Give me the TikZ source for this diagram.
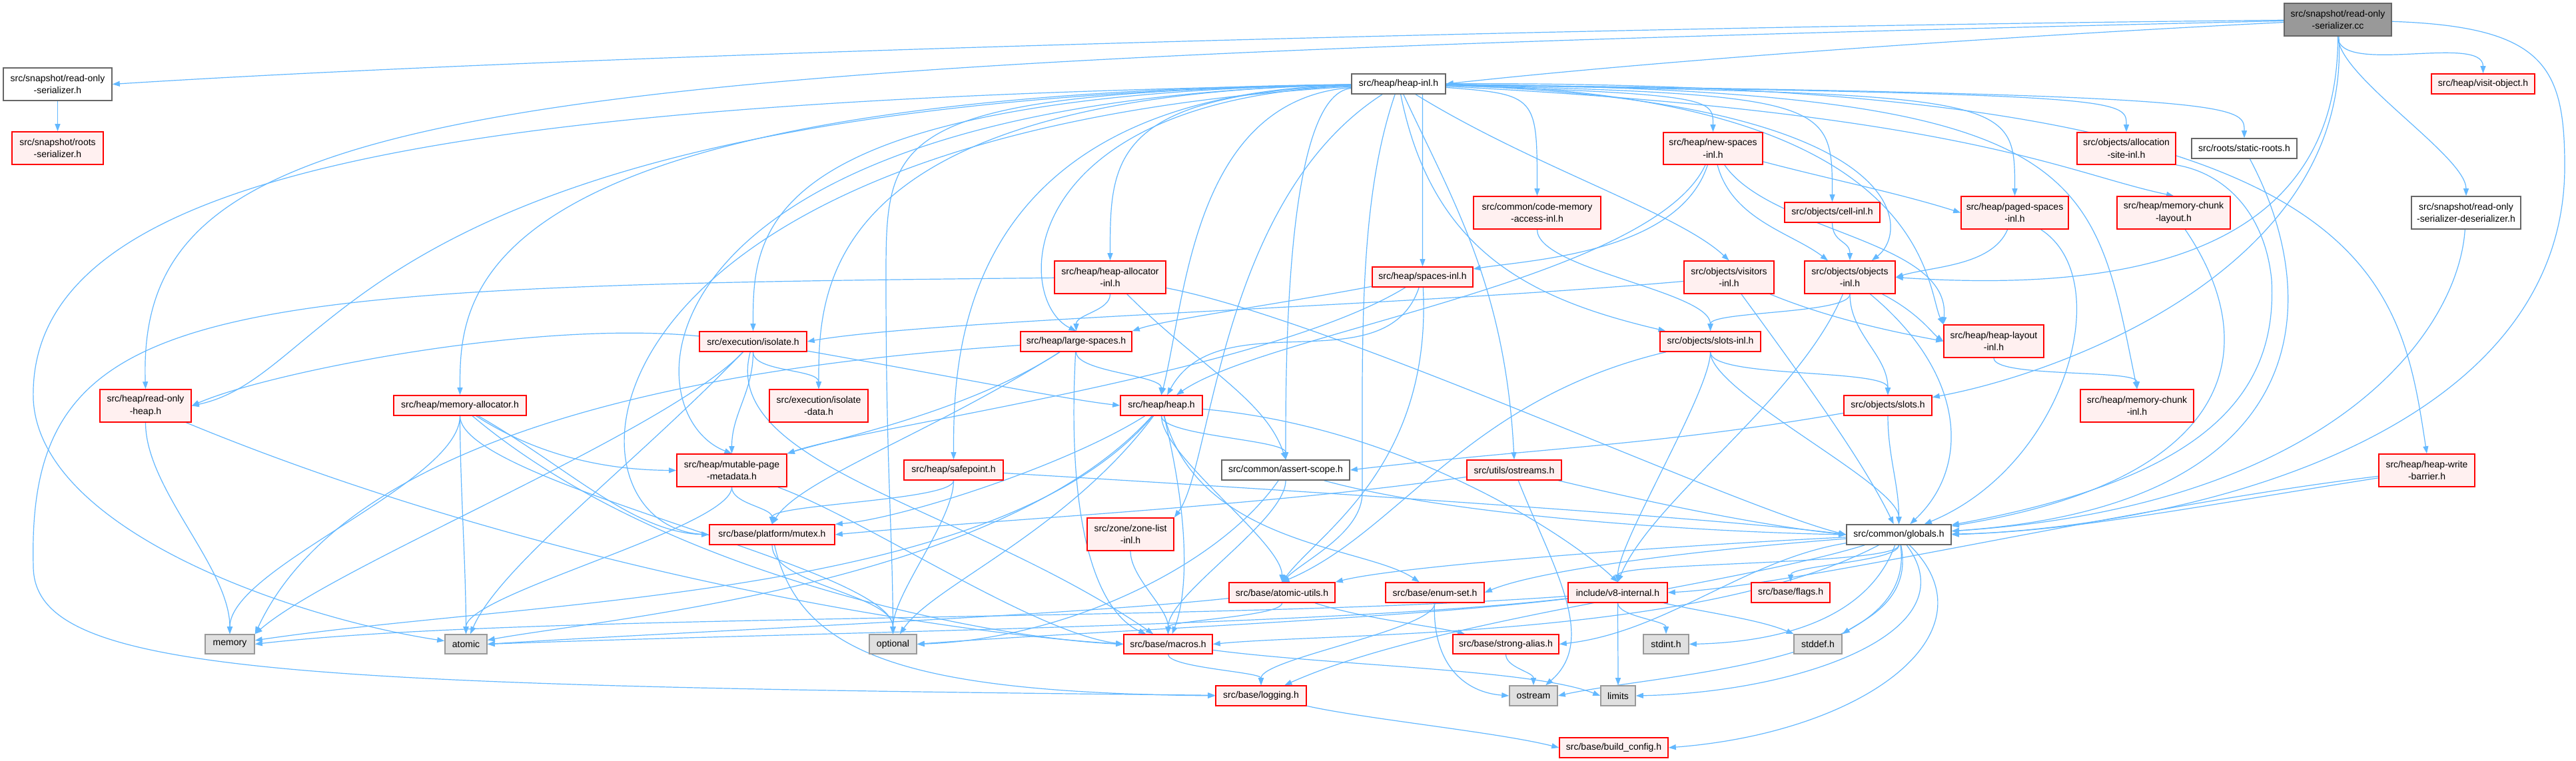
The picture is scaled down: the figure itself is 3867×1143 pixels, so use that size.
\documentclass[tikz,border=0pt]{standalone}
\usepackage{fontspec}
\setmainfont{Liberation Sans}
\usetikzlibrary{arrows.meta,calc}
\pgfdeclarelayer{bg}
\pgfsetlayers{bg,main}
\definecolor{eblue}{HTML}{63B8FF}
\definecolor{nred}{HTML}{FF0000}
\definecolor{nredfill}{HTML}{FFF0F0}
\definecolor{ngray}{HTML}{666666}
\definecolor{nlgray}{HTML}{999999}
\definecolor{ngfill}{HTML}{E0E0E0}
\definecolor{nroot}{HTML}{999999}
\tikzset{
  nbase/.style={draw, rectangle, inner sep=0pt, align=center, line width=0.4pt,
    font=\fontsize{3.5}{4.675}\selectfont, text=black},
  rn/.style={nbase, draw=nred, fill=nredfill},
  wn/.style={nbase, draw=ngray, fill=white},
  gn/.style={nbase, draw=nlgray, fill=ngfill},
  rootn/.style={nbase, draw=ngray, fill=nroot},
  dep/.style={draw=eblue, line width=0.3pt, -{Triangle[length=2.75pt,width=2pt]}},
}
\newcommand\nb[7]{\node[#1,minimum width=#5*0.25pt,minimum height=#6*0.25pt] (#2) at (#3,#4) {#7};}
\newcommand\edd[3][60]{\draw[dep] (#2) .. controls ($(#2.south)+(0,-#1)$) and ($(#3.north)+(0,#1)$) .. (#3);}
\newcommand\hfan[3]{\draw[dep] (#1) .. controls (#2.north |- #1.south) and ($(#2.north)+(0,#3)$) .. (#2);}
\begin{document}
\begin{tikzpicture}[x=0.25pt,y=0.25pt]
\useasboundingbox (0,0) rectangle (3867,-1143);
% ---------------- nodes
\nb{rootn}{roc}{3509.5}{-29.5}{161}{49}{src/snapshot/read-only\\-serializer.cc}
\nb{wn}{ROS}{86.5}{-126.5}{163}{49}{src/snapshot/read-only\\-serializer.h}
\nb{rn}{RS}{86.5}{-222.5}{137}{49}{src/snapshot/roots\\-serializer.h}
\nb{wn}{HI}{2099.5}{-126}{141}{30}{src/heap/heap-inl.h}
\nb{rn}{VO}{3727.5}{-126}{155}{30}{src/heap/visit-object.h}
\nb{wn}{RSD}{3702}{-319.5}{164}{49}{src/snapshot/read-only\\-serializer-deserializer.h}
\nb{rn}{NSI}{2571.5}{-223}{149}{48}{src/heap/new-spaces\\-inl.h}
\nb{rn}{ASI}{3192}{-223}{148}{48}{src/objects/allocation\\-site-inl.h}
\nb{wn}{SR}{3369}{-223}{158}{30}{src/roots/static-roots.h}
\nb{rn}{CMA}{2307.5}{-319.5}{191}{49}{src/common/code-memory\\-access-inl.h}
\nb{rn}{CELL}{2750.5}{-319}{143}{30}{src/objects/cell-inl.h}
\nb{rn}{PSI}{3024.5}{-319.5}{161}{49}{src/heap/paged-spaces\\-inl.h}
\nb{rn}{MCL}{3263}{-319.5}{170}{49}{src/heap/memory-chunk\\-layout.h}
\nb{rn}{HAI}{1666.5}{-416.5}{167}{49}{src/heap/heap-allocator\\-inl.h}
\nb{rn}{SPI}{2135.5}{-416}{151}{30}{src/heap/spaces-inl.h}
\nb{rn}{VIS}{2595.5}{-416.5}{135}{49}{src/objects/visitors\\-inl.h}
\nb{rn}{OBJI}{2777}{-416.5}{136}{49}{src/objects/objects\\-inl.h}
\nb{rn}{ISO}{1130.5}{-513}{161}{30}{src/execution/isolate.h}
\nb{rn}{LS}{1615.5}{-513}{167}{30}{src/heap/large-spaces.h}
\nb{rn}{SLI}{2567.5}{-513}{151}{30}{src/objects/slots-inl.h}
\nb{rn}{HLI}{2993}{-512.5}{150}{49}{src/heap/heap-layout\\-inl.h}
\nb{rn}{ROH}{218.5}{-609.5}{137}{49}{src/heap/read-only\\-heap.h}
\nb{rn}{MA}{690.5}{-609}{199}{30}{src/heap/memory-allocator.h}
\nb{rn}{ISD}{1229}{-609.5}{148}{49}{src/execution/isolate\\-data.h}
\nb{rn}{HEAP}{1743.5}{-609}{123}{30}{src/heap/heap.h}
\nb{rn}{SLOTS}{2834}{-609}{132}{30}{src/objects/slots.h}
\nb{rn}{MCI}{3208}{-609.5}{170}{49}{src/heap/memory-chunk\\-inl.h}
\nb{rn}{MPM}{1098.5}{-706.5}{165}{49}{src/heap/mutable-page\\-metadata.h}
\nb{rn}{SAFE}{1431.5}{-706}{149}{30}{src/heap/safepoint.h}
\nb{wn}{AS}{1930}{-706}{192}{30}{src/common/assert-scope.h}
\nb{rn}{OST}{2273}{-706}{142}{30}{src/utils/ostreams.h}
\nb{rn}{HWB}{3643}{-706.5}{144}{49}{src/heap/heap-write\\-barrier.h}
\nb{rn}{MUTEX}{1159}{-803}{188}{30}{src/base/platform/mutex.h}
\nb{rn}{ZLI}{1697}{-802.5}{130}{49}{src/zone/zone-list\\-inl.h}
\nb{wn}{GLOB}{2850.5}{-803}{157}{30}{src/common/globals.h}
\nb{rn}{AU}{1924.5}{-890}{159}{30}{src/base/atomic-utils.h}
\nb{rn}{ENUM}{2154}{-890}{148}{30}{src/base/enum-set.h}
\nb{rn}{V8I}{2428.5}{-890}{149}{30}{include/v8-internal.h}
\nb{rn}{FLAGS}{2688}{-890}{118}{30}{src/base/flags.h}
\nb{gn}{MEM}{345}{-967.5}{74}{29}{memory}
\nb{gn}{ATOM}{699.5}{-967.5}{63}{29}{atomic}
\nb{gn}{OPT}{1340.5}{-967.5}{71}{29}{optional}
\nb{rn}{MACROS}{1753.5}{-967.5}{133}{29}{src/base/macros.h}
\nb{rn}{SA}{2260.5}{-967.5}{159}{29}{src/base/strong-alias.h}
\nb{gn}{STDINT}{2501}{-967.5}{68}{29}{stdint.h}
\nb{gn}{STDDEF}{2729}{-967.5}{72}{29}{stddef.h}
\nb{rn}{LOG}{1893}{-1045}{136}{30}{src/base/logging.h}
\nb{gn}{OSTREAM}{2302}{-1045}{72}{30}{ostream}
\nb{gn}{LIMITS}{2429}{-1045}{52}{30}{limits}
\nb{rn}{BC}{2422.5}{-1123}{163}{30}{src/base/build\_config.h}
% ---------------- edges
\begin{pgfonlayer}{bg}
\fill[white] (0,0) rectangle (3867,-1143);
% root
\draw[dep] (roc) .. controls (2400,-40) and (900,-80) .. (ROS.east);
\draw[dep] (roc) .. controls (700,-95) and (204,-150) .. (ROH.north);
\draw[dep] (roc) .. controls (3000,-55) and (2500,-90) .. (HI.east);
\edd{roc}{VO}
\edd{roc}{RSD}
\draw[dep] (roc) .. controls (3510,-380) and (3200,-440) .. (OBJI.east);
\draw[dep] (roc) .. controls (3530,-400) and (3100,-560) .. (SLOTS);
\draw[dep] (roc) .. controls (3820,-40) and (3850,-100) .. (3850,-250) .. controls (3850,-650) and (3300,-790) .. (GLOB.east);
\edd{ROS}{RS}
% heap-inl.h
\hfan{HI}{MA}{150}
\hfan{HI}{ISO}{150}
\hfan{HI}{ISD}{150}
\hfan{HI}{SAFE}{150}
\hfan{HI}{HAI}{150}
\hfan{HI}{AS}{150}
\hfan{HI}{SPI}{150}
\hfan{HI}{CMA}{150}
\hfan{HI}{NSI}{50}
\hfan{HI}{CELL}{150}
\hfan{HI}{PSI}{150}
\hfan{HI}{ASI}{50}
\hfan{HI}{SR}{50}
\draw[dep] (HI) .. controls (520,-150) and (520,-560) .. (ROH.east);
\draw[dep] (HI) .. controls (700,-150) and (40,-250) .. (50,-600) .. controls (60,-800) and (450,-930) .. (ATOM);
\draw[dep] (HI) .. controls (827,-200) and (827,-790) .. (MUTEX.west);
\draw[dep] (HI) .. controls (940,-150) and (940,-620) .. (MPM.north);
\draw[dep] (HI) .. controls (1330,-140) and (1330,-200) .. (1330,-420) .. controls (1330,-700) and (1340,-800) .. (OPT.north);
\draw[dep] (HI) .. controls (1520,-150) and (1520,-450) .. (LS.north);
\draw[dep] (HI) .. controls (1790,-150) and (1780,-450) .. (HEAP.north);
\draw[dep] (HI) .. controls (1830,-300) and (1820,-700) .. (ZLI.north east);
\draw[dep] (HI) .. controls (2040,-300) and (2045,-500) .. (2045,-740) .. controls (2045,-800) and (1960,-840) .. (AU.north);
\draw[dep] (HI) .. controls (2180,-300) and (2260,-430) .. (OST.north);
\draw[dep] (HI) .. controls (2150,-380) and (2300,-450) .. (SLI);
\draw[dep] (HI) .. controls (2300,-250) and (2520,-320) .. (VIS.north);
\draw[dep] (HI) .. controls (2870,-150) and (2870,-345) .. (OBJI);
\draw[dep] (HI) .. controls (2900,-140) and (2890,-430) .. (HLI.north west);
\draw[dep] (HI) .. controls (3140,-135) and (3140,-250) .. (MCI.north);
\draw[dep] (HI) .. controls (2950,-170) and (3100,-260) .. (MCL.north);
\draw[dep] (HI) .. controls (3560,-120) and (3600,-400) .. (HWB.north);
% new-spaces-inl.h
\draw[dep] (NSI) .. controls (2750,-270) and (2850,-290) .. (PSI.west);
\draw[dep] (NSI) .. controls (2520,-380) and (2300,-390) .. (SPI);
\draw[dep] (NSI) .. controls (2480,-420) and (1900,-500) .. (HEAP);
\draw[dep] (NSI) .. controls (2600,-330) and (2690,-350) .. (OBJI);
\draw[dep] (NSI) .. controls (2660,-350) and (2930,-360) .. (HLI.north west);
% misc upper
\edd{CMA}{SLI}
\edd[30]{CELL}{OBJI}
\draw[dep] (PSI) .. controls (2990,-400) and (2900,-400) .. (OBJI.east);
\draw[dep] (PSI) .. controls (3180,-420) and (3100,-700) .. (GLOB);
\draw[dep] (ASI.south east) .. controls (3340,-260) and (3400,-320) .. (3410,-420) .. controls (3420,-600) and (3300,-720) .. (GLOB);
\draw[dep] (SR) .. controls (3490,-450) and (3480,-760) .. (GLOB);
\draw[dep] (MCL) .. controls (3400,-520) and (3360,-720) .. (GLOB);
\draw[dep] (RSD) .. controls (3690,-500) and (3500,-760) .. (GLOB);
\draw[dep] (HWB) .. controls (3300,-760) and (3100,-800) .. (GLOB);
\draw[dep] (HWB) .. controls (3200,-760) and (2700,-880) .. (V8I.east);
% visitors / objects / slots
\draw[dep] (VIS) .. controls (2100,-460) and (1400,-480) .. (ISO.east);
\draw[dep] (VIS) .. controls (2750,-480) and (2850,-500) .. (HLI.west);
\draw[dep] (VIS) .. controls (2730,-600) and (2800,-700) .. (GLOB);
\edd[30]{OBJI}{SLI}
\edd{OBJI}{SLOTS}
\draw[dep] (OBJI) .. controls (2880,-470) and (2900,-500) .. (HLI.west);
\draw[dep] (OBJI) .. controls (2950,-560) and (2960,-700) .. (GLOB);
\draw[dep] (OBJI) .. controls (2700,-600) and (2480,-750) .. (V8I.north);
\edd[40]{SLI}{SLOTS}
\draw[dep] (SLI) .. controls (2200,-600) and (2100,-800) .. (AU.north);
\edd{SLI}{GLOB}
\edd{SLI}{V8I}
\draw[dep] (SLOTS) .. controls (2480,-670) and (2315,-672) .. (AS.east);
\edd{SLOTS}{GLOB}
\edd[30]{HLI}{MCI}
% heap allocator / large spaces / spaces
\edd[25]{HAI}{LS}
\draw[dep] (HAI) .. controls (1800,-550) and (1900,-600) .. (AS.north);
\draw[dep] (HAI) .. controls (300,-430) and (40,-450) .. (50,-850) .. controls (50,-1010) and (400,-1030) .. (LOG);
\draw[dep] (HAI) .. controls (2000,-480) and (2600,-760) .. (GLOB.west);
\edd[30]{LS}{HEAP}
\draw[dep] (LS) .. controls (1450,-620) and (1250,-660) .. (MPM.north east);
\draw[dep] (LS) .. controls (1400,-650) and (1200,-720) .. (MUTEX.north);
\draw[dep] (LS) .. controls (900,-560) and (500,-700) .. (MEM.north east);
\draw[dep] (LS) .. controls (1600,-800) and (1650,-920) .. (MACROS);
\draw[dep] (SPI) .. controls (1900,-460) and (1750,-480) .. (LS.north east);
\draw[dep] (SPI) .. controls (2080,-580) and (1830,-450) .. (HEAP);
\draw[dep] (SPI) .. controls (1900,-560) and (1300,-640) .. (MPM.north east);
\draw[dep] (SPI) .. controls (2150,-700) and (1980,-800) .. (AU.north);
% isolate
\edd[30]{ISO}{ISD}
\edd{ISO}{MPM}
\draw[dep] (ISO) .. controls (1400,-560) and (1600,-600) .. (HEAP.west);
\draw[dep] (ISO) .. controls (800,-480) and (400,-560) .. (ROH.east);
\draw[dep] (ISO) .. controls (1000,-650) and (500,-850) .. (MEM.north east);
\draw[dep] (ISO) .. controls (950,-700) and (750,-850) .. (ATOM);
\draw[dep] (ISO) .. controls (1080,-700) and (1450,-760) .. (MACROS);
% read-only heap, memory allocator
\edd[100]{ROH}{MEM}
\draw[dep] (ROH) .. controls (800,-850) and (1400,-950) .. (MACROS.west);
\edd[100]{MA}{MEM}
\edd[100]{MA}{ATOM}
\edd[100]{MA}{OPT}
\draw[dep] (MA) .. controls (850,-700) and (950,-800) .. (MUTEX.west);
\draw[dep] (MA) .. controls (800,-680) and (900,-706) .. (MPM.west);
\draw[dep] (MA) .. controls (1000,-870) and (1500,-960) .. (MACROS.west);
% heap.h
\edd[30]{HEAP}{AS}
\edd{HEAP}{AU}
\draw[dep] (HEAP) .. controls (1600,-700) and (1350,-780) .. (MUTEX.north east);
\draw[dep] (HEAP) .. controls (1600,-800) and (1400,-880) .. (OPT);
\draw[dep] (HEAP) .. controls (1500,-900) and (800,-900) .. (MEM);
\draw[dep] (HEAP) .. controls (1500,-880) and (900,-930) .. (ATOM);
\draw[dep] (HEAP) .. controls (2100,-640) and (2350,-800) .. (V8I.north);
\draw[dep] (HEAP) .. controls (1800,-820) and (2050,-820) .. (ENUM);
\draw[dep] (HEAP) .. controls (1790,-800) and (1780,-900) .. (MACROS);
% middle row
\edd[30]{SAFE}{MUTEX}
\edd{SAFE}{OPT}
\draw[dep] (SAFE) .. controls (2000,-740) and (2600,-780) .. (GLOB.west);
\edd[25]{MPM}{MUTEX}
\edd{MPM}{ATOM}
\draw[dep] (MPM) .. controls (1300,-780) and (1550,-950) .. (MACROS.west);
\draw[dep] (AS) .. controls (1830,-850) and (1600,-960) .. (OPT.east);
\edd{AS}{MACROS}
\draw[dep] (AS) .. controls (2200,-780) and (2600,-800) .. (GLOB.west);
\draw[dep] (OST) .. controls (1900,-760) and (1500,-780) .. (MUTEX.east);
\draw[dep] (OST) .. controls (2330,-850) and (2400,-960) .. (OSTREAM);
\draw[dep] (OST) .. controls (2500,-760) and (2650,-790) .. (GLOB.west);
\edd[40]{ZLI}{MACROS}
% globals.h
\draw[dep] (GLOB) .. controls (2500,-820) and (2100,-850) .. (AU.north east);
\draw[dep] (GLOB) .. controls (2500,-830) and (2300,-860) .. (ENUM.east);
\edd[30]{GLOB}{V8I}
\edd[25]{GLOB}{FLAGS}
\draw[dep] (GLOB) .. controls (2620,-840) and (2500,-950) .. (SA.east);
\draw[dep] (GLOB) .. controls (2800,-940) and (2650,-965) .. (STDINT.east);
\draw[dep] (GLOB) .. controls (2870,-900) and (2800,-930) .. (STDDEF.north east);
\draw[dep] (GLOB) .. controls (2600,-880) and (2150,-930) .. (LOG);
\draw[dep] (GLOB) .. controls (2880,-1000) and (2500,-1010) .. (OSTREAM.east);
\draw[dep] (GLOB) .. controls (2960,-950) and (2700,-1040) .. (LIMITS.east);
\draw[dep] (GLOB) .. controls (3000,-950) and (2800,-1100) .. (BC.east);
\draw[dep] (GLOB) .. controls (2550,-960) and (2000,-950) .. (MACROS.east);
% v8-internal.h
\draw[dep] (V8I) .. controls (2100,-930) and (1600,-950) .. (OPT.east);
\draw[dep] (V8I) .. controls (2000,-940) and (1200,-950) .. (ATOM.east);
\draw[dep] (V8I) .. controls (1800,-935) and (800,-920) .. (MEM.east);
\edd[20]{V8I}{STDINT}
\draw[dep] (V8I) .. controls (2560,-920) and (2640,-930) .. (STDDEF);
\edd[40]{V8I}{LIMITS}
% bottom
\draw[dep] (AU) .. controls (1600,-925) and (1000,-950) .. (ATOM.east);
\edd[20]{AU}{MACROS}
\draw[dep] (AU) .. controls (2050,-930) and (2150,-940) .. (SA);
\edd[40]{ENUM}{LOG}
\draw[dep] (ENUM) .. controls (2150,-1000) and (2200,-1040) .. (OSTREAM.west);
\edd[20]{SA}{OSTREAM}
\edd[20]{MACROS}{LOG}
\draw[dep] (MACROS) .. controls (2000,-1000) and (2300,-1005) .. (LIMITS.west);
\draw[dep] (LOG) .. controls (2050,-1080) and (2250,-1100) .. (BC.west);
\edd{MUTEX}{OPT}
\draw[dep] (MUTEX) .. controls (1200,-980) and (1350,-1040) .. (LOG.west);
\end{pgfonlayer}
\end{tikzpicture}
\end{document}
